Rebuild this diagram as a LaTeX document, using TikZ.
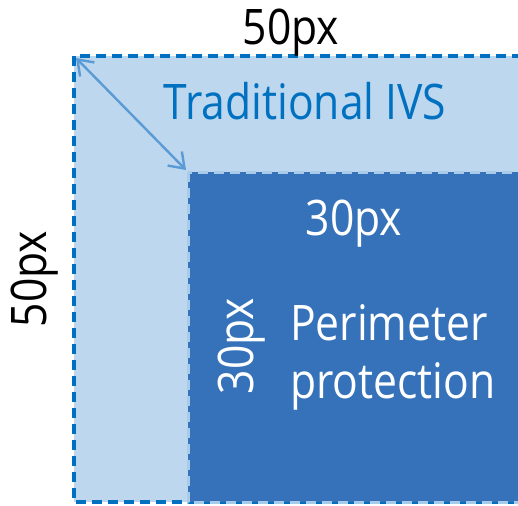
\documentclass[tikz,border=0pt]{standalone}
\usepackage{fontspec}
\setmainfont{Open Sans}[FakeStretch=0.87]
\usetikzlibrary{arrows.meta}
\definecolor{outerfill}{HTML}{BDD7EE}
\definecolor{outerline}{HTML}{0070C0}
\definecolor{innerfill}{HTML}{3572BA}
\definecolor{innerline}{HTML}{A9CBEA}
\definecolor{arrowcol}{HTML}{5B9BD5}
\tikzset{
  boxdash/.style={dash pattern=on 10pt off 6pt, line width=3.5pt},
  bigtext/.style={font=\fontsize{49}{58}\selectfont, inner sep=0pt, anchor=base},
  dimarrow/.style={draw=arrowcol, line width=2.4pt, {Straight Barb[length=14pt,width=20pt,line width=2.4pt]}-{Straight Barb[length=14pt,width=20pt,line width=2.4pt]}}
}
\begin{document}
\begin{tikzpicture}[x=1pt,y=-1pt]
\useasboundingbox (0,0) rectangle (518,505);
\fill[white] (0,0) rectangle (518,505);
\begin{scope}
\clip (0,0) rectangle (518,505);
% outer box
\coordinate (ootl) at (74,56);
\coordinate (oobr) at (540,502);
\fill[outerfill] (ootl) rectangle (oobr);
\draw[outerline, boxdash] (ootl) rectangle (oobr);
% inner box
\coordinate (iitl) at (188,172);
\coordinate (iibr) at (540,502);
\fill[innerfill] (iitl) rectangle (iibr);
\draw[innerline, boxdash, line width=3pt] (iitl) rectangle (iibr);
\end{scope}
% arrow
\coordinate (a1) at (76,58);
\coordinate (a2) at (186,170);
\draw[dimarrow] (a1) -- (a2);
% labels
\node[bigtext, text=black] (top50) at (291,45) {50px};
\node[bigtext, text=black, rotate=90] (left50) at (46,279) {50px};
\node[bigtext, text=outerline] (trad) at (305,120) {Traditional IVS};
\node[bigtext, text=white] (in30) at (354,235) {30px};
\node[bigtext, text=white, rotate=90] (in30v) at (253,346) {30px};
\node[font=\fontsize{49}{58}\selectfont, inner sep=0pt, anchor=base west, align=left, text=white] (perim) at (290,398) {Perimeter\\protection};
\end{tikzpicture}
\end{document}
